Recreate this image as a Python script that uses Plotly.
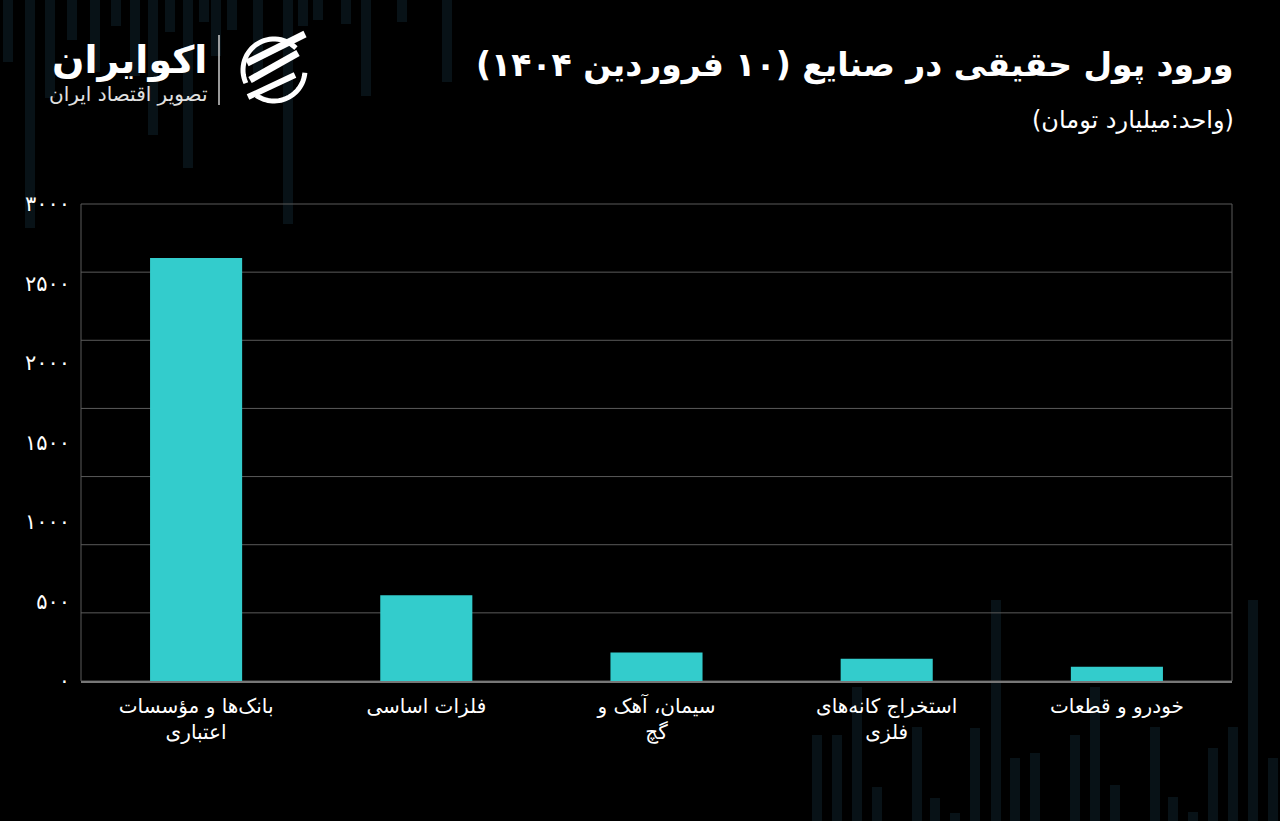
import math
import plotly.graph_objects as go

# ---------------- data ----------------
categories = [
    "\u200fبانک\u200cها و مؤسسات<br>\u200fاعتباری",
    "\u200fفلزات اساسی",
    "\u200fسیمان، آهک و<br>\u200fگچ",
    "\u200fاستخراج کانه\u200cهای<br>\u200fفلزی",
    "\u200fخودرو و قطعات",
]
values = [2660, 540, 180, 140, 90]
y_tickvals = [0, 500, 1000, 1500, 2000, 2500, 3000]
y_ticktext = ["۰", "۵۰۰", "۱۰۰۰", "۱۵۰۰", "۲۰۰۰", "۲۵۰۰", "۳۰۰۰"]

TITLE = "\u200fورود پول حقیقی در صنایع (۱۰ فروردین ۱۴۰۴)\u200f"
SUBTITLE = "\u200f(واحد:میلیارد تومان)\u200f"

FONT = "DejaVu Sans"
BAR_COLOR = "#33CCCC"
BG = "#000000"

W, H = 1280, 821
L, R, T, B = 81, 1232, 204, 681  # plot area in pixels


def px(x):
    return (x - L) / (R - L)


def py(y):
    return (B - y) / (B - T)


fig = go.Figure()
fig.add_trace(go.Bar(
    x=categories, y=values, marker=dict(color=BAR_COLOR, line=dict(width=0)),
    width=0.4, hoverinfo="skip",
))

shapes = []
# faint decorative background columns (top-left hanging, bottom-right rising)
deco_top = [(8, 62), (30, 228), (50, 98), (72, 40), (95, 72), (116, 26), (135, 76),
            (153, 135), (170, 32), (188, 168), (204, 22), (216, 56), (232, 30),
            (258, 76), (288, 224), (303, 26), (318, 20), (346, 24), (366, 96),
            (402, 22), (447, 82)]
for cx, yb in deco_top:
    shapes.append(dict(type="rect", xref="paper", yref="paper", layer="below",
                       x0=px(cx - 5), x1=px(cx + 5), y0=py(yb), y1=py(0),
                       fillcolor="rgba(18,44,56,0.42)", line=dict(width=0)))
deco_bot = [(817, 735), (837, 735), (857, 687), (877, 787), (917, 727), (935, 798),
            (955, 813), (975, 728), (996, 600), (1015, 758), (1035, 753), (1075, 735),
            (1095, 687), (1115, 785), (1155, 727), (1173, 797), (1193, 812),
            (1213, 748), (1233, 727), (1253, 600), (1273, 758)]
for cx, yt in deco_bot:
    shapes.append(dict(type="rect", xref="paper", yref="paper", layer="below",
                       x0=px(cx - 5), x1=px(cx + 5), y0=py(821), y1=py(yt),
                       fillcolor="rgba(18,44,56,0.42)", line=dict(width=0)))

# gridlines (7 equal divisions)
for k in range(1, 7):
    shapes.append(dict(type="line", xref="paper", yref="paper", layer="below",
                       x0=0, x1=1, y0=k / 7, y1=k / 7,
                       line=dict(color="#5a5a5a", width=1)))
# plot border
shapes.append(dict(type="rect", xref="paper", yref="paper", layer="below",
                   x0=0, x1=1, y0=0, y1=1, line=dict(color="#5a5a5a", width=1)))


# logo icon: two ring arcs and three diagonal blades
def arc_path(cx, cy, r, a0, a1, n=30):
    pts = []
    for i in range(n + 1):
        a = math.radians(a0 + (a1 - a0) * i / n)
        pts.append((px(cx + r * math.cos(a)), py(cy - r * math.sin(a))))
    return "M " + " L ".join(f"{x:.5f},{y:.5f}" for x, y in pts)


for a0, a1 in [(205, 45), (-5, -125)]:
    shapes.append(dict(type="path", xref="paper", yref="paper", layer="above",
                       path=arc_path(274, 70, 31, a0, a1),
                       line=dict(color="white", width=5)))
for (x0, y0, x1, y1, w) in [(247, 63, 305, 34, 7), (250, 80, 298, 53, 7),
                            (248, 97, 295, 75, 6)]:
    shapes.append(dict(type="line", xref="paper", yref="paper", layer="above",
                       x0=px(x0), x1=px(x1), y0=py(y0), y1=py(y1),
                       line=dict(color="white", width=w)))
# separator
shapes.append(dict(type="line", xref="paper", yref="paper", layer="above",
                   x0=px(219), x1=px(219), y0=py(35), y1=py(105),
                   line=dict(color="#cccccc", width=1.5)))

annotations = [
    dict(text=f"<b>{TITLE}</b>", xref="paper", yref="paper", x=px(1236), y=py(65),
         xanchor="right", yanchor="middle", showarrow=False,
         font=dict(family=FONT, size=33, color="white")),
    dict(text=SUBTITLE, xref="paper", yref="paper", x=px(1236), y=py(120),
         xanchor="right", yanchor="middle", showarrow=False,
         font=dict(family=FONT, size=24, color="white")),
    dict(text="<b>\u200fاکوایران</b>", xref="paper", yref="paper", x=px(209), y=py(60),
         xanchor="right", yanchor="middle", showarrow=False,
         font=dict(family=FONT, size=38, color="white")),
    dict(text="\u200fتصویر اقتصاد ایران", xref="paper", yref="paper", x=px(209), y=py(94),
         xanchor="right", yanchor="middle", showarrow=False,
         font=dict(family=FONT, size=20, color="#e0e0e0")),
]

fig.update_layout(
    width=W, height=H,
    margin=dict(l=L, r=W - R, t=T, b=H - B),
    paper_bgcolor=BG, plot_bgcolor="rgba(0,0,0,0)",
    showlegend=False,
    bargap=0.6,
    font=dict(family=FONT, color="white"),
    shapes=shapes,
    annotations=annotations,
    xaxis=dict(
        showgrid=False, zeroline=False,
        showline=True, linecolor="#777777", linewidth=2,
        tickfont=dict(family=FONT, size=20, color="white"),
        ticks="", ticklabelstandoff=6,
        fixedrange=True,
    ),
    yaxis=dict(
        range=[0, 3000], tickvals=y_tickvals, ticktext=y_ticktext,
        showgrid=False, zeroline=False, showline=False,
        tickfont=dict(family=FONT, size=21, color="white"),
        ticks="", ticklabelstandoff=10,
        fixedrange=True,
    ),
)

fig.write_html(
    "out.html",
    config={"displayModeBar": False},
    post_script="document.body.style.margin='0';document.body.style.background='#000';",
)
